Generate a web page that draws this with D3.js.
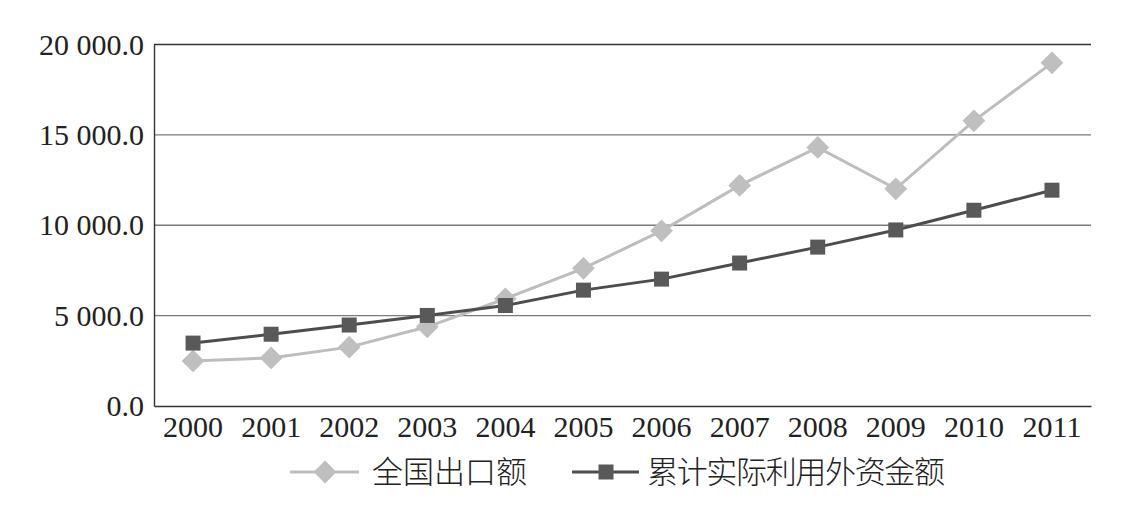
<!DOCTYPE html>
<html><head><meta charset="utf-8">
<script src="https://cdn.jsdelivr.net/npm/d3@7"></script>
<style>body{margin:0;background:#fff}</style>
</head><body><svg id="c" width="1139" height="518"></svg>
<script>
const years = ["2000","2001","2002","2003","2004","2005","2006","2007","2008","2009","2010","2011"];
const exportsTotal = [2492.0, 2661.0, 3256.0, 4382.3, 5933.2, 7619.5, 9689.8, 12204.6, 14306.9, 12016.1, 15777.5, 18983.8];
const fdiCumulative = [3480, 3970, 4480, 5010, 5560, 6410, 7020, 7910, 8790, 9740, 10830, 11940];
const yTicks = [0, 5000, 10000, 15000, 20000];
const seriesNames = ["全国出口额", "累计实际利用外资金额"];

const svg = d3.select("#c");
const L = 154, R = 1091, T = 44.5, B = 406;
const x = d3.scaleBand().domain(years).range([L, R]);
const y = d3.scaleLinear().domain([0, 20000]).range([B, T]);
const serif = "'Liberation Serif','Times New Roman',serif";
const cjk = "'Noto Sans CJK SC',sans-serif";
const fmt = v => { const s = v.toFixed(1); const [i, d] = s.split("."); return i.replace(/\B(?=(\d{3})+(?!\d))/g, " ") + "." + d; };

// gridlines
svg.append("g").selectAll("line").data(yTicks.filter(t => t > 0)).join("line")
  .attr("x1", L).attr("x2", R).attr("y1", d => y(d)).attr("y2", d => y(d))
  .attr("stroke", d => d === 20000 ? "#333" : "#7a7a7a").attr("stroke-width", 1.4);

// y axis
const ya = svg.append("g").attr("transform", `translate(${L},0)`)
  .call(d3.axisLeft(y).tickValues(yTicks).tickFormat(fmt).tickSize(0).tickPadding(10));
ya.select(".domain").attr("stroke", "#333").attr("stroke-width", 1.4);
ya.selectAll("text").attr("font-family", serif).attr("font-size", 30).attr("fill", "#222");

// x axis
const xa = svg.append("g").attr("transform", `translate(0,${B})`)
  .call(d3.axisBottom(x).tickSize(0).tickPadding(10));
xa.select(".domain").attr("stroke", "#333").attr("stroke-width", 1.4);
xa.selectAll("text").attr("font-family", serif).attr("font-size", 30).attr("fill", "#222");

const cx = d => x(d) + x.bandwidth() / 2;
const line = d3.line().x((d, i) => cx(years[i])).y(d => y(d));

const diamond = d3.symbol().type(d3.symbolDiamond2).size(330);
const square = d3.symbol().type(d3.symbolSquare).size(225);

svg.append("path").datum(exportsTotal).attr("d", line).attr("fill", "none").attr("stroke", "#bdbdbd").attr("stroke-width", 3);
svg.append("g").selectAll("path").data(exportsTotal).join("path")
  .attr("d", diamond).attr("transform", (d, i) => `translate(${cx(years[i])},${y(d)})`).attr("fill", "#bfbfbf");

svg.append("path").datum(fdiCumulative).attr("d", line).attr("fill", "none").attr("stroke", "#4d4d4d").attr("stroke-width", 3);
svg.append("g").selectAll("path").data(fdiCumulative).join("path")
  .attr("d", square).attr("transform", (d, i) => `translate(${cx(years[i])},${y(d)})`).attr("fill", "#595959");

// legend
const ly = 472;
const lg = svg.append("g");
lg.append("line").attr("x1", 290).attr("x2", 359).attr("y1", ly).attr("y2", ly).attr("stroke", "#bdbdbd").attr("stroke-width", 3);
lg.append("path").attr("d", diamond).attr("transform", `translate(325,${ly})`).attr("fill", "#bfbfbf");
lg.append("text").attr("x", 372).attr("y", ly).attr("dy", "0.36em").attr("font-family", cjk).attr("font-weight", 300)
  .attr("font-size", 31).attr("fill", "#222").text(seriesNames[0]);
lg.append("line").attr("x1", 572).attr("x2", 639).attr("y1", ly).attr("y2", ly).attr("stroke", "#4d4d4d").attr("stroke-width", 3);
lg.append("path").attr("d", square).attr("transform", `translate(606,${ly})`).attr("fill", "#595959");
lg.append("text").attr("x", 647).attr("y", ly).attr("dy", "0.36em").attr("font-family", cjk).attr("font-weight", 300)
  .attr("font-size", 31).attr("fill", "#222").attr("textLength", 298).text(seriesNames[1]);
</script></body></html>
